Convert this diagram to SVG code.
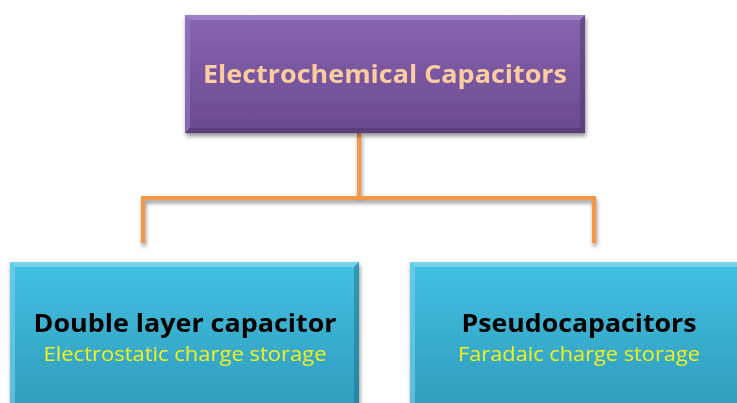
<svg xmlns="http://www.w3.org/2000/svg" width="737" height="403" viewBox="0 0 737 403">
<style>
.title{font-family:"Open Sans",Lato,"Liberation Sans",sans-serif;font-weight:bold;text-anchor:middle}
.sub{font-family:"Open Sans",Lato,"Liberation Sans",sans-serif;text-anchor:middle;fill:#f2f21a}
.conn{fill:none;stroke:#f79646;stroke-width:4;stroke-linejoin:miter}
</style>
<defs>
<linearGradient id="gp" x1="0" y1="0" x2="0" y2="1">
<stop offset="0" stop-color="#8864b2"/>
<stop offset="1" stop-color="#6a4a8e"/>
</linearGradient>
<linearGradient id="gc" x1="0" y1="0" x2="0" y2="1">
<stop offset="0" stop-color="#42c1e3"/>
<stop offset="1" stop-color="#2f98b8"/>
</linearGradient>
<filter id="sh" x="-5%" y="-5%" width="112%" height="120%">
<feGaussianBlur in="SourceAlpha" stdDeviation="2"/>
<feOffset dx="1" dy="3"/>
<feComponentTransfer><feFuncA type="linear" slope="0.45"/></feComponentTransfer>
<feMerge><feMergeNode/><feMergeNode in="SourceGraphic"/></feMerge>
</filter>
</defs>
<rect width="737" height="403" fill="#ffffff"/>
<g id="connectors" filter="url(#sh)">
<path class="conn" d="M359 133 V198"/>
<path class="conn" d="M143 243 V198 H594 V243"/>
</g>
<g id="root" filter="url(#sh)">
<rect x="185" y="15" width="400" height="118" fill="url(#gp)"/>
<path d="M185 15 H585 L580 20 H190 Z" fill="#a88bd0" opacity="0.7"/>
<path d="M185 15 L190 20 V128 L185 133 Z" fill="#9a7cc4" opacity="0.6"/>
<path d="M585 15 L580 20 V128 L585 133 Z" fill="#4f356d" opacity="0.5"/>
<path d="M185 133 L190 128 H580 L585 133 Z" fill="#4a3266" opacity="0.5"/>
<text class="title" x="385" y="83" font-size="25" fill="#fbcda0" textLength="364" lengthAdjust="spacingAndGlyphs">Electrochemical Capacitors</text>
</g>
<g id="double-layer" filter="url(#sh)">
<rect x="10" y="262" width="349" height="160" fill="url(#gc)"/>
<path d="M10 262 H359 L354 267 H15 Z" fill="#8fdcf2" opacity="0.7"/>
<path d="M10 262 L15 267 V420 L10 422 Z" fill="#7bd2ec" opacity="0.6"/>
<path d="M359 262 L354 267 V420 L359 422 Z" fill="#1e6f88" opacity="0.5"/>
<text class="title" x="185" y="332" font-size="25" fill="#000000" textLength="303" lengthAdjust="spacingAndGlyphs">Double layer capacitor</text>
<text class="sub" x="185" y="361" font-size="20" textLength="283" lengthAdjust="spacingAndGlyphs">Electrostatic charge storage</text>
</g>
<g id="pseudo" filter="url(#sh)">
<rect x="410" y="262" width="340" height="160" fill="url(#gc)"/>
<path d="M410 262 H750 L745 267 H415 Z" fill="#8fdcf2" opacity="0.7"/>
<path d="M410 262 L415 267 V420 L410 422 Z" fill="#7bd2ec" opacity="0.6"/>
<text class="title" x="579" y="332" font-size="25" fill="#000000" textLength="235" lengthAdjust="spacingAndGlyphs">Pseudocapacitors</text>
<text class="sub" x="579" y="361" font-size="20" textLength="242" lengthAdjust="spacingAndGlyphs">Faradaic charge storage</text>
</g>
</svg>
